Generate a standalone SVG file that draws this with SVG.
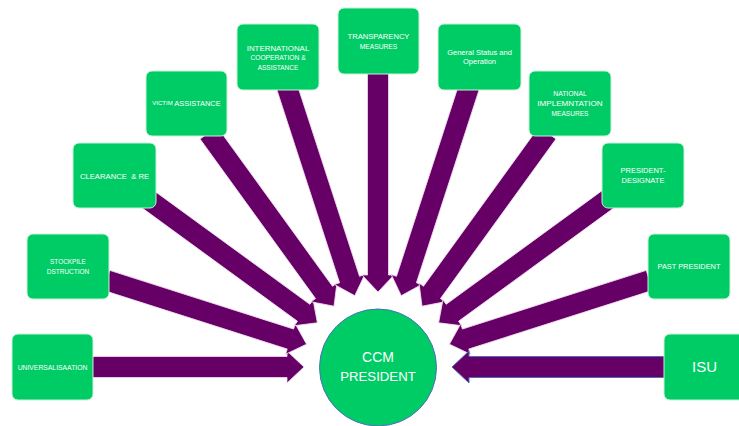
<svg xmlns="http://www.w3.org/2000/svg" width="739" height="426" viewBox="0 0 739 426">
  <defs>
    <style>
      .box { fill: #00CC66; stroke: #c8f2d8; stroke-width: 1; }
      .arr { fill: #660066; stroke: #f0e0f0; stroke-width: 0.8; }
      .arr-isu { fill: #660066; stroke: #4a6fc0; stroke-width: 1; }
      text { font-family: "Liberation Sans", Arial, sans-serif; fill: #ffffff; text-anchor: middle; dominant-baseline: central; }
    </style>
  </defs>
  <rect width="739" height="426" fill="#ffffff"/>

  <g id="connectors">
    <polygon class="arr" transform="translate(304,367) rotate(0)" points="-214,-10.5 -17,-10.5 -17,-16 0,0 -17,16 -17,10.5 -214,10.5"/>
    <polygon class="arr" transform="translate(306.6,344.2) rotate(17.7)" points="-210,-10.5 -17,-10.5 -17,-16 0,0 -17,16 -17,10.5 -210,10.5"/>
    <polygon class="arr" transform="translate(317.4,322.8) rotate(36.1)" points="-212,-10.5 -17,-10.5 -17,-16 0,0 -17,16 -17,10.5 -212,10.5"/>
    <polygon class="arr" transform="translate(334,306.2) rotate(54.1)" points="-214,-10.5 -17,-10.5 -17,-16 0,0 -17,16 -17,10.5 -214,10.5"/>
    <polygon class="arr" transform="translate(354.8,295.7) rotate(72)" points="-220,-10.5 -17,-10.5 -17,-16 0,0 -17,16 -17,10.5 -220,10.5"/>
    <polygon class="arr" transform="translate(378,292) rotate(90)" points="-221,-10.5 -17,-10.5 -17,-16 0,0 -17,16 -17,10.5 -221,10.5"/>
    <polygon class="arr" transform="translate(401.2,295.7) rotate(108)" points="-220,-10.5 -17,-10.5 -17,-16 0,0 -17,16 -17,10.5 -220,10.5"/>
    <polygon class="arr" transform="translate(422,306.2) rotate(125.9)" points="-214,-10.5 -17,-10.5 -17,-16 0,0 -17,16 -17,10.5 -214,10.5"/>
    <polygon class="arr" transform="translate(438.6,322.8) rotate(143.9)" points="-212,-10.5 -17,-10.5 -17,-16 0,0 -17,16 -17,10.5 -212,10.5"/>
    <polygon class="arr" transform="translate(449.4,344.2) rotate(162.3)" points="-210,-10.5 -17,-10.5 -17,-16 0,0 -17,16 -17,10.5 -210,10.5"/>
    <polygon class="arr-isu" transform="translate(452,367) rotate(180)" points="-215,-10.5 -17,-10.5 -17,-16 0,0 -17,16 -17,10.5 -215,10.5"/>
  </g>

  <g id="ccm-president">
    <circle cx="378" cy="367.5" r="58.5" fill="#00CC66" stroke="#4a6fc0" stroke-width="1"/>
    <text x="378" y="357" font-size="14">CCM</text>
    <text x="378" y="376.5" font-size="13.2">PRESIDENT</text>
  </g>

  <g id="universalisaation">
    <rect class="box" x="12" y="334" width="81" height="66" rx="6"/>
    <text x="52.5" y="367" font-size="6.8">UNIVERSALISAATION</text>
  </g>

  <g id="stockpile-dstruction">
    <rect class="box" x="27" y="234" width="82" height="65" rx="6"/>
    <text x="68" y="261" font-size="6.4">STOCKPILE</text>
    <text x="68" y="271" font-size="6.5">DSTRUCTION</text>
  </g>

  <g id="clearance">
    <rect class="box" x="73" y="143" width="83" height="65" rx="6"/>
    <text x="114.5" y="176" font-size="7.7" xml:space="preserve">CLEARANCE  &amp; RE</text>
  </g>

  <g id="victim-assistance">
    <rect class="box" x="146" y="71" width="81" height="65" rx="6"/>
    <text x="186.5" y="103" font-size="7.4"><tspan font-size="6">VICTIM</tspan> ASSISTANCE</text>
  </g>

  <g id="international">
    <rect class="box" x="237" y="24" width="82" height="66" rx="6"/>
    <text x="278" y="48" font-size="7.9">INTERNATIONAL</text>
    <text x="278" y="57.5" font-size="6.7">COOPERATION &amp;</text>
    <text x="278" y="67" font-size="6.5">ASSISTANCE</text>
  </g>

  <g id="transparency">
    <rect class="box" x="338" y="8" width="81" height="66" rx="6"/>
    <text x="378.5" y="36" font-size="7.6">TRANSPARENCY</text>
    <text x="378.5" y="46" font-size="6.7">MEASURES</text>
  </g>

  <g id="general-status">
    <rect class="box" x="438" y="24" width="83" height="66" rx="6"/>
    <text x="479.5" y="52" font-size="7.5">General Status and</text>
    <text x="479.5" y="61.5" font-size="7.5">Operation</text>
  </g>

  <g id="national-implementation">
    <rect class="box" x="529" y="71" width="82" height="65" rx="6"/>
    <text x="570" y="93" font-size="6.8">NATIONAL</text>
    <text x="570" y="103" font-size="8.1">IMPLEMNTATION</text>
    <text x="570" y="113" font-size="6.6">MEASURES</text>
  </g>

  <g id="president-designate">
    <rect class="box" x="602" y="143" width="82" height="65" rx="6"/>
    <text x="643" y="170" font-size="7.5">PRESIDENT-</text>
    <text x="643" y="180" font-size="7.5">DESIGNATE</text>
  </g>

  <g id="past-president">
    <rect class="box" x="648" y="234" width="82" height="65" rx="6"/>
    <text x="689" y="266" font-size="7.4">PAST PRESIDENT</text>
  </g>

  <g id="isu">
    <rect class="box" x="664" y="334" width="84" height="66" rx="6"/>
    <text x="704.5" y="366" font-size="15">ISU</text>
  </g>
</svg>
